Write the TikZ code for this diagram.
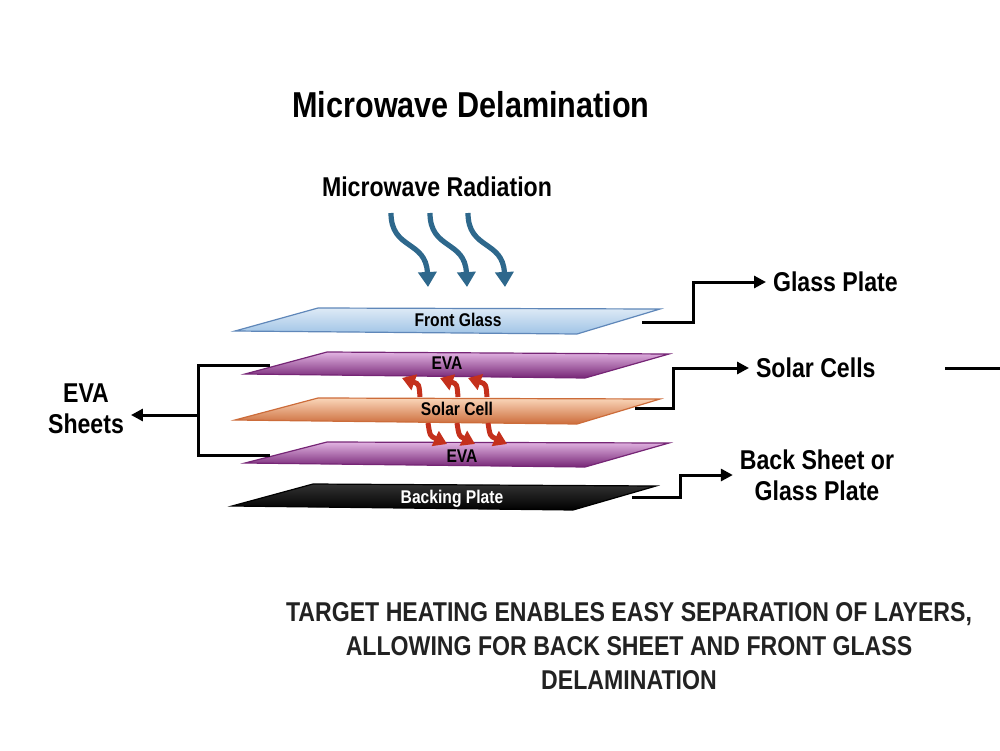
\documentclass[tikz,border=0pt]{standalone}
\usepackage{fontspec}
\setmainfont[FakeStretch=0.85]{Liberation Sans}
\usepackage{tikz}
\usetikzlibrary{arrows.meta,positioning,calc}
\definecolor{waveblue}{RGB}{46,104,140}
\definecolor{heatred}{RGB}{196,48,28}
\definecolor{glasstop}{RGB}{222,234,246}
\definecolor{glassbot}{RGB}{160,196,230}
\definecolor{glassedge}{RGB}{95,135,185}
\definecolor{evalight}{RGB}{226,180,226}
\definecolor{evadark}{RGB}{118,38,118}
\definecolor{celllight}{RGB}{250,214,186}
\definecolor{celldark}{RGB}{204,108,58}
\definecolor{inkgray}{RGB}{34,34,34}

\begin{document}
\begin{tikzpicture}[x=0.5pt,y=-0.5pt,
    layertext/.style={font=\bfseries\fontsize{9.2}{11}\selectfont},
    sidetext/.style={font=\bfseries\fontsize{13.6}{15.5}\selectfont,align=center},
    link/.style={line width=1.5pt},
    linkarrow/.style={link,-{Triangle[width=6pt,length=6pt]}},
    wave/.style={waveblue,line width=2.6pt,-{Triangle[width=9pt,length=7.5pt]}},
    heat/.style={heatred,line width=2.5pt,-{Triangle[width=8pt,length=6.5pt]}}]
    \useasboundingbox (0,0) rectangle (1000,750);

    % Titles
    \node[font=\bfseries\fontsize{18}{21}\selectfont] (title) at (471,105) {Microwave Delamination};
    \node[sidetext] (radiation) at (437,187) {Microwave Radiation};

    % Incoming radiation
    \foreach \dx in {0,39,77}
        \draw[wave] (391+\dx,213) .. controls (391+\dx,250) and (426+\dx,240) .. (428+\dx,287);

    % Layers
    \shade[top color=glasstop,bottom color=glassbot,draw=glassedge,line width=0.6pt]
        (318,308) -- (660,309) -- (577,334) -- (235,331) -- cycle;
    \shade[top color=evalight,bottom color=evadark,draw=evadark,line width=0.6pt]
        (327,352) -- (669,354) -- (585,378) -- (245,374) -- cycle;
    \shade[top color=celllight,bottom color=celldark,draw=celldark,line width=0.6pt]
        (318,398) -- (660,399) -- (577,424) -- (235,420) -- cycle;
    \shade[top color=evalight,bottom color=evadark,draw=evadark,line width=0.6pt]
        (327,442) -- (669,443) -- (585,467) -- (245,463) -- cycle;
    \shade[top color=black!80,bottom color=black,draw=black,line width=0.6pt]
        (313,484) -- (656,486) -- (573,510) -- (232,506) -- cycle;

    \node[layertext] (frontglass) at (458,320) {Front Glass};
    \node[layertext] (evaupper) at (447,363) {EVA};
    \node[layertext] (solarcell) at (457,409) {Solar Cell};
    \node[layertext] (evalower) at (462,456) {EVA};
    \node[layertext,white] (backing) at (452,499) {Backing Plate};

    % Heat flow out of the cell
    \foreach \tx/\hx in {420/402,458/440,487/468}
        \draw[heat] (\tx,397) .. controls (\tx-1,384) .. (\hx,378);
    \foreach \tx/\hx in {428/447,457/475,488/507}
        \draw[heat] (\tx,423) .. controls (\tx+2,436) .. (\hx,444);

    % Connection points
    \coordinate (glassout) at (642,322);
    \coordinate (cellout) at (635,408);
    \coordinate (backout) at (632,497);
    \coordinate (evaupperin) at (270,365);
    \coordinate (evalowerin) at (270,455);
    \coordinate (evasplit) at (198,415);
    \coordinate (cellsnext) at (945,368);
    \coordinate (edgeout) at (1000,368);

    % Separated products
    \node[sidetext,anchor=west] (glassplate) at (766,282) {Glass Plate};
    \node[sidetext,anchor=west] (solarcells) at (749,368) {Solar Cells};
    \node[sidetext] (backsheet) at (817,475) {Back Sheet or\\Glass Plate};
    \node[sidetext] (evasheets) at (86,409) {EVA\\Sheets};

    \draw[linkarrow] (glassout) -- (693,322) |- (glassplate.west);
    \draw[linkarrow] (cellout) -- (673,408) |- (solarcells.west);
    \draw[linkarrow] (backout) -- (680,497) |- (backsheet.west);
    \draw[link] (cellsnext) -- (edgeout);

    \draw[link] (evaupperin) -- (198,365) -- (198,455) -- (evalowerin);
    \draw[linkarrow] (evasplit) -- (evasplit -| evasheets.east);

    % Summary
    \node[font=\bfseries\fontsize{13.6}{17}\selectfont,align=center,text=inkgray] (summary) at (629,646)
        {TARGET HEATING ENABLES EASY SEPARATION OF LAYERS,\\ALLOWING FOR BACK SHEET AND FRONT GLASS\\DELAMINATION};
\end{tikzpicture}
\end{document}
